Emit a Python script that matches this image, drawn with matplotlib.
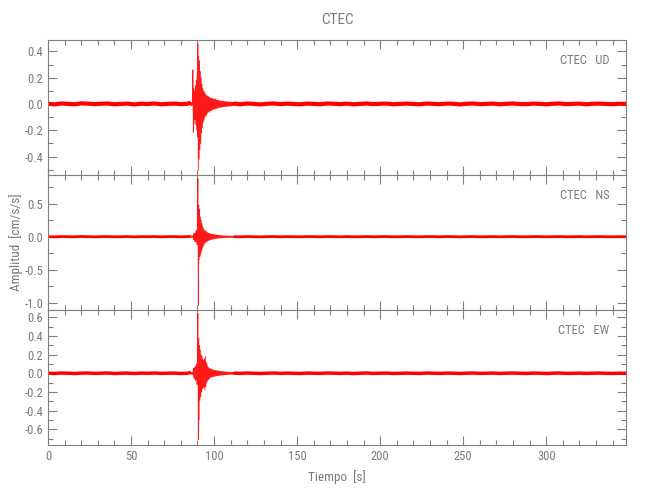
import numpy as np
import matplotlib
matplotlib.use("Agg")
import matplotlib.pyplot as plt
from matplotlib import font_manager as fm
from matplotlib.ticker import MultipleLocator

# ---------------- data ----------------
station = "CTEC"
components = ["UD", "NS", "EW"]
t_end = 348.0

# quiet noise, pre-event (t = 0..84, every 4 s)
pre_t0, pre_dt = 0.0, 4.0
ud_pre = [0.002, -0.003, 0.004, 0.001, -0.002, 0.005, 0.003, -0.001, 0.002, 0.004, -0.002,
          0.001, 0.003, -0.003, 0.002, 0.000, 0.004, -0.002, 0.001, 0.003, -0.001, 0.002]
ns_pre = [0.001, -0.002, 0.002, 0.000, -0.001, 0.003, 0.001, -0.002, 0.001, 0.002, -0.001,
          0.000, 0.002, -0.002, 0.001, 0.000, 0.002, -0.001, 0.001, 0.002, -0.001, 0.001]
ew_pre = [0.001, -0.002, 0.003, 0.001, -0.002, 0.002, 0.003, -0.001, 0.001, 0.003, -0.002,
          0.001, 0.002, -0.002, 0.002, 0.000, 0.003, -0.001, 0.001, 0.002, -0.002, 0.001]

# event (t = 86.0 .. 111.75, every 0.25 s)
evt_t0, evt_dt = 86.0, 0.25
ud_evt = [0.010, -0.015, 0.012, -0.010, 0.018, 0.260, -0.215, 0.120,
          -0.150, 0.100, -0.120, 0.140, -0.160, 0.180, -0.200, 0.220,
          -0.250, 0.455, -0.505, 0.360, -0.420, 0.330, -0.350, 0.250,
          -0.300, 0.200, -0.220, 0.150, -0.180, 0.120, -0.140, 0.100,
          -0.120, 0.090, -0.100, 0.080, -0.085, 0.070, -0.090, 0.060,
          -0.070, 0.065, -0.060, 0.055, -0.065, 0.050, -0.055, 0.048,
          -0.050, 0.045, -0.052, 0.040, -0.045, 0.042, -0.040, 0.038,
          -0.042, 0.036, -0.038, 0.040, -0.035, 0.033, -0.036, 0.030,
          -0.032, 0.028, -0.030, 0.030, -0.026, 0.025, -0.028, 0.024,
          -0.025, 0.022, -0.024, 0.026, -0.022, 0.020, -0.022, 0.021,
          -0.020, 0.019, -0.021, 0.018, -0.019, 0.020, -0.018, 0.017,
          -0.018, 0.016, -0.017, 0.018, -0.016, 0.015, -0.016, 0.017,
          -0.015, 0.014, -0.016, 0.015, -0.014, 0.013, -0.015, 0.014]
ns_evt = [0.008, -0.010, 0.012, -0.008, 0.010, -0.012, 0.040, -0.050,
          0.060, -0.070, 0.050, -0.080, 0.090, -0.070, 0.100, -0.120,
          0.150, 0.880, -1.040, 0.480, -0.350, 0.420, -0.300, 0.300,
          -0.250, 0.250, -0.220, 0.200, -0.180, 0.150, -0.150, 0.120,
          -0.120, 0.100, -0.100, 0.090, -0.085, 0.080, -0.080, 0.070,
          -0.070, 0.060, -0.060, 0.055, -0.055, 0.050, -0.050, 0.045,
          -0.045, 0.040, -0.042, 0.038, -0.040, 0.036, -0.035, 0.034,
          -0.033, 0.032, -0.030, 0.030, -0.028, 0.028, -0.027, 0.026,
          -0.025, 0.024, -0.024, 0.023, -0.022, 0.022, -0.021, 0.020,
          -0.020, 0.019, -0.019, 0.018, -0.018, 0.017, -0.017, 0.016,
          -0.016, 0.016, -0.015, 0.015, -0.015, 0.014, -0.014, 0.014,
          -0.013, 0.013, -0.013, 0.012, -0.012, 0.012, -0.012, 0.011,
          -0.011, 0.011, -0.011, 0.010, -0.010, 0.010, -0.010, 0.010]
ew_evt = [0.008, -0.010, 0.012, -0.010, 0.010, -0.012, 0.050, -0.050,
          0.060, -0.060, 0.070, -0.080, 0.080, -0.070, 0.100, -0.120,
          0.150, 0.640, -0.710, 0.375, -0.500, 0.300, -0.290, 0.250,
          -0.250, 0.200, -0.200, 0.180, -0.170, 0.150, -0.160, 0.140,
          -0.150, 0.160, -0.180, 0.180, -0.140, 0.120, -0.100, 0.100,
          -0.080, 0.070, -0.070, 0.060, -0.060, 0.055, -0.050, 0.050,
          -0.045, 0.045, -0.040, 0.042, -0.040, 0.038, -0.036, 0.035,
          -0.034, 0.033, -0.032, 0.031, -0.030, 0.030, -0.028, 0.028,
          -0.027, 0.026, -0.025, 0.025, -0.024, 0.023, -0.023, 0.022,
          -0.021, 0.021, -0.020, 0.020, -0.019, 0.019, -0.018, 0.018,
          -0.017, 0.017, -0.017, 0.016, -0.016, 0.016, -0.015, 0.015,
          -0.015, 0.014, -0.014, 0.014, -0.013, 0.013, -0.013, 0.013,
          -0.012, 0.012, -0.012, 0.012, -0.011, 0.011, -0.011, 0.011]

# quiet noise, post-event (t = 112..348, every 4 s)
post_t0, post_dt = 112.0, 4.0
ud_post = [0.003, -0.002, 0.004, 0.001, -0.003, 0.002, 0.004, -0.001, 0.003, 0.000,
           -0.002, 0.003, 0.001, -0.002, 0.004, 0.002, -0.001, 0.003, -0.002, 0.001,
           0.004, -0.001, 0.002, 0.003, -0.002, 0.001, 0.003, 0.000, -0.002, 0.004,
           0.001, -0.001, 0.003, 0.002, -0.003, 0.002, 0.004, -0.001, 0.001, 0.003,
           -0.002, 0.002, 0.004, 0.000, -0.001, 0.003, 0.001, -0.002, 0.002, 0.004,
           -0.001, 0.001, 0.003, -0.002, 0.002, 0.003, 0.000, -0.001, 0.002, 0.001]
ns_post = [0.001, -0.001, 0.002, 0.000, -0.002, 0.001, 0.002, -0.001, 0.001, 0.000,
           -0.001, 0.002, 0.001, -0.001, 0.002, 0.001, -0.001, 0.002, -0.001, 0.000,
           0.002, -0.001, 0.001, 0.002, -0.001, 0.000, 0.002, 0.000, -0.001, 0.002,
           0.001, -0.001, 0.002, 0.001, -0.002, 0.001, 0.002, -0.001, 0.000, 0.002,
           -0.001, 0.001, 0.002, 0.000, -0.001, 0.002, 0.001, -0.001, 0.001, 0.002,
           -0.001, 0.000, 0.002, -0.001, 0.001, 0.002, 0.000, -0.001, 0.001, 0.000]
ew_post = [0.002, -0.001, 0.003, 0.000, -0.002, 0.001, 0.003, -0.001, 0.002, 0.000,
           -0.002, 0.002, 0.001, -0.001, 0.003, 0.001, -0.001, 0.002, -0.002, 0.001,
           0.003, -0.001, 0.001, 0.002, -0.002, 0.000, 0.002, 0.000, -0.001, 0.003,
           0.001, -0.001, 0.002, 0.001, -0.002, 0.001, 0.003, -0.001, 0.001, 0.002,
           -0.001, 0.001, 0.003, 0.000, -0.001, 0.002, 0.001, -0.002, 0.001, 0.003,
           -0.001, 0.000, 0.002, -0.001, 0.001, 0.002, 0.000, -0.001, 0.001, 0.000]

ylims = [(-0.54, 0.487), (-1.11, 0.935), (-0.768, 0.678)]
yminor = [0.1, 0.25, 0.1]
yticks = [[-0.4, -0.2, 0.0, 0.2, 0.4], [-1.0, -0.5, 0.0, 0.5], [-0.6, -0.4, -0.2, 0.0, 0.2, 0.4, 0.6]]
xticks = [0, 50, 100, 150, 200, 250, 300]

traces = [(ud_pre, ud_evt, ud_post), (ns_pre, ns_evt, ns_post), (ew_pre, ew_evt, ew_post)]
band_lw = [3.0, 2.0, 2.5]

# ---------------- style ----------------
def pick_font():
    for name in ["Liberation Sans Narrow", "DejaVu Sans Condensed", "Roboto Condensed", "Liberation Sans"]:
        try:
            fm.findfont(fm.FontProperties(family=name), fallback_to_default=False)
            return name
        except Exception:
            continue
    return "DejaVu Sans"

font = pick_font()
plt.rcParams["font.family"] = [font, "DejaVu Sans"]
gray = "#808080"
tgray = "#7a7a7a"
red = "#ff0000"

fig = plt.figure(figsize=(6.5, 5.0), dpi=100)
L, R = 48 / 650, 626 / 650
tops = [40, 175, 310]
axes = []
for i in range(3):
    top = 1 - tops[i] / 500
    h = 135 / 500
    ax = fig.add_axes([L, top - h, R - L, h])
    axes.append(ax)

for i, ax in enumerate(axes):
    pre, evt, post = traces[i]
    tp = pre_t0 + pre_dt * np.arange(len(pre))
    te = evt_t0 + evt_dt * np.arange(len(evt))
    tq = post_t0 + post_dt * np.arange(len(post))
    # quiet noise band
    ax.plot(np.concatenate([tp, te[:1]]), pre + evt[:1], color=red, lw=band_lw[i], solid_capstyle="butt")
    ax.plot(np.concatenate([te[-1:], tq]), evt[-1:] + post, color=red, lw=band_lw[i], solid_capstyle="butt")
    # event
    ax.plot(te, evt, color=red, lw=0.55, alpha=0.9)
    ax.set_xlim(0, t_end)
    ax.set_ylim(*ylims[i])
    ax.xaxis.set_major_locator(MultipleLocator(50))
    ax.xaxis.set_minor_locator(MultipleLocator(10))
    ax.set_yticks(yticks[i])
    ax.yaxis.set_minor_locator(MultipleLocator(yminor[i]))
    ax.tick_params(which="both", direction="in", top=True, right=True, color=gray,
                   labelcolor=tgray, labelsize=9, width=0.8)
    ax.tick_params(which="major", length=6.5)
    ax.tick_params(which="minor", length=3.5)
    for s in ax.spines.values():
        s.set_color(gray)
        s.set_linewidth(0.8)
    ax.yaxis.set_major_formatter(matplotlib.ticker.FormatStrFormatter("%.1f"))
    if i < 2:
        ax.tick_params(labelbottom=False)
    else:
        ax.set_xticks(xticks)
        ax.set_xlabel("Tiempo  [s]", color=tgray, fontsize=9.5, labelpad=5)
    ax.text(0.971, 0.845, f"{station}   {components[i]}", transform=ax.transAxes,
            ha="right", va="center", color=tgray, fontsize=9)

fig.text((L + R) / 2, 1 - 20 / 500, station, ha="center", va="center", color=tgray, fontsize=11)
fig.text(16 / 650, 1 - 242 / 500, "Amplitud  [cm/s/s]", rotation=90, ha="center", va="center",
         color=tgray, fontsize=9.5)

fig.savefig("out.png", dpi=100)
